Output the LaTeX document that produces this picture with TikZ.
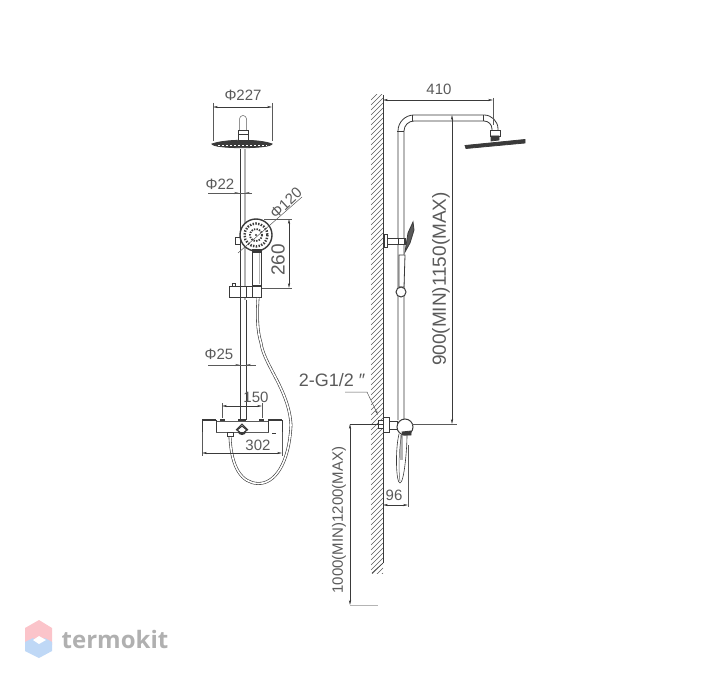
\documentclass[tikz,border=0pt]{standalone}
\usepackage{fontspec}
\setmainfont{Liberation Sans}
\newfontfamily\logofont{Open Sans}
\usetikzlibrary{arrows.meta}
\definecolor{inkdark}{HTML}{3A3A3A}
\definecolor{inkgrey}{HTML}{5A5A5A}
\definecolor{inkpale}{HTML}{B4B4B4}
\definecolor{logored}{HTML}{FBC4CA}
\definecolor{logoblue}{HTML}{BFD8F6}
\definecolor{logotext}{HTML}{B0B0B0}
\tikzset{
  pipe/.style={draw=inkdark,line width=0.8pt},
  dimline/.style={draw=inkdark,line width=0.5pt,{Stealth[length=5pt,width=2.2pt]}-{Stealth[length=5pt,width=2.2pt]}},
  extline/.style={draw=inkgrey,line width=0.5pt},
  dimtext/.style={text=inkgrey,font=\fontsize{15}{15}\selectfont,inner sep=0pt},
  bigtext/.style={text=inkgrey,font=\fontsize{19}{19}\selectfont,inner sep=0pt},
  midtext/.style={text=inkgrey,font=\fontsize{15}{15}\selectfont,inner sep=0pt},
  solid part/.style={pipe,fill=inkdark}
}
\begin{document}
\begin{tikzpicture}[x=1pt,y=-1pt]
  \useasboundingbox (0,0) rectangle (706,684);
  % front view, head and riser
  \draw[pipe,fill=inkdark] (212,144) .. controls (225,139) and (260,139) .. (272,144) .. controls (270,149) and (214,149) .. (212,144) -- cycle;
  \draw[draw=white,line width=1pt,dash pattern=on 2pt off 2pt] (218,146) -- (267,146);
  \draw[extline] (239.5,130) -- (239.5,119) arc (180:360:3.5) -- (246.5,130);
  \draw[pipe,fill=white] (238,130) rectangle (248,140);
  \draw[pipe] (238,134) -- (248,134);
  \draw[pipe] (240,149) -- (240,420);
  \draw[draw=inkpale,line width=1.6pt] (245,149) -- (245,300);
  \draw[pipe] (246,300) -- (246,420);
  % hand shower
  \draw[pipe,fill=white] (252,248) -- (252,285) -- (261,285) -- (261,248);
  \draw[draw=inkpale,line width=1.6pt] (259.5,252) -- (259.5,284);
  \draw[pipe,fill=white] (235,237) rectangle (240,244);
  \draw[draw=inkdark,line width=1.4pt,fill=white] (256,235) circle (16);
  \draw[draw=inkdark,line width=2.4pt,dash pattern=on 1.4pt off 1.4pt] (256,235) circle (11.5);
  \draw[draw=inkdark,line width=1.8pt,dash pattern=on 1.4pt off 1.2pt] (256,235) circle (6);
  \fill[inkdark] (256,235) circle (1.2);
  \draw[solid part] (252,249) rectangle (261,252);
  % slide bar
  \draw[pipe,fill=white] (229,286) rectangle (261,297);
  \draw[pipe] (240,286) -- (240,297) (246,286) -- (246,297) (252,286) -- (252,297);
  \draw[pipe] (232,286) -- (232,283) -- (235,283) -- (235,286);
  % hose
  \draw[draw=inkdark,line width=2.8pt] (258,298) .. controls (257,315) and (257,330) .. (261,343) .. controls (264,365) and (289,390) .. (291,425) .. controls (289,465) and (274,484) .. (258,483.5) .. controls (242,483) and (231,468) .. (230,436);
  \draw[draw=white,line width=1.6pt] (258,298) .. controls (257,315) and (257,330) .. (261,343) .. controls (264,365) and (289,390) .. (291,425) .. controls (289,465) and (274,484) .. (258,483.5) .. controls (242,483) and (231,468) .. (230,436);
  % thermostat bar
  \draw[draw=inkgrey,line width=0.6pt,fill=white] (216,421) rectangle (268,432);
  \draw[pipe,fill=white] (202,432) -- (202,420) -- (216,420) -- (216,432);
  \draw[pipe,fill=white] (268,432) -- (268,420) -- (282,420) -- (282,432);
  \draw[draw=inkdark,line width=1.4pt] (202,420) -- (216,420) (268,420) -- (282,420) (220,420) -- (225,420) (259,420) -- (264,420) (238,420) -- (246,420);
  \draw[pipe] (236,430) -- (242,424) -- (248,430);
  \draw[draw=inkdark,line width=1.2pt,fill=white] (237,430) -- (242,426) -- (247,430) -- (242,434) -- cycle;
  \fill[inkdark] (238,432) arc (180:0:4 and 3) -- cycle;
  \draw[pipe,fill=white] (227,432) rectangle (233,436);
  \draw[pipe] (272,433) -- (276,433);
  % front view dimensions
  \node[dimtext] (d_head) at (243,95) {Φ227};
  \draw[extline] (213,103) -- (213,141) (272,103) -- (272,141);
  \draw[dimline] (213,107) -- (272,107);
  \node[dimtext] (d_riser) at (220,184) {Φ22};
  \draw[extline] (208,193) -- (252,193);
  \draw[-{Stealth[length=5pt,width=2.2pt]},extline] (232,193) -- (239,193);
  \draw[-{Stealth[length=5pt,width=2.2pt]},extline] (252,193) -- (245,193);
  \node[dimtext,rotate=43] (d_hand) at (286,203) {Φ120};
  \draw[extline] (238,253) -- (302,197);
  \node[bigtext,rotate=90] (d_260) at (278,260) {260};
  \draw[extline] (264,219) -- (292,219) (262,288) -- (292,288);
  \draw[dimline] (289,219) -- (289,288);
  \node[dimtext] (d_bar) at (219,354) {Φ25};
  \draw[extline] (208,365) -- (256,365);
  \draw[-{Stealth[length=5pt,width=2.2pt]},extline] (232,365) -- (240,365);
  \draw[-{Stealth[length=5pt,width=2.2pt]},extline] (254,365) -- (246,365);
  \node[dimtext] (d_150) at (256,397) {150};
  \draw[extline] (222,403) -- (222,418) (262,403) -- (262,418);
  \draw[dimline] (222,406) -- (262,406);
  \node[dimtext] (d_302) at (258,445) {302};
  \draw[extline] (202,432) -- (202,456) (282,432) -- (282,456);
  \draw[dimline] (202,453) -- (282,453);
  % wall
  \begin{scope}
    \clip (371,95) rectangle (383,573);
    \foreach \i in {0,5,...,490} {
      \draw[draw=inkgrey,line width=0.4pt] (371,100+\i) -- (383,88+\i);
    }
  \end{scope}
  \draw[draw=inkdark,line width=0.8pt] (383,95) -- (383,563);
  \draw[draw=inkdark,line width=0.5pt] (383,563) -- (372,573);
  % side view, riser and arm
  \draw[pipe] (398,420) -- (398,131) arc (180:270:16) -- (484,115) arc (270:360:14) -- (498,133);
  \draw[pipe] (404,420) -- (404,131) arc (180:270:10) -- (484,121) arc (270:360:8) -- (492,133);
  \draw[pipe] (397,131) -- (404,131) (412,115) -- (412,121) (483,115) -- (483,121);
  \draw[pipe,fill=white] (490,130) rectangle (500,136);
  \draw[solid part] (491,136) -- (499,136) -- (499,140) -- (491,141) -- cycle;
  \draw[solid part] (465,145.5) -- (525,139.5) -- (525,143) -- (466,148.5) -- cycle;
  % side view, hand shower
  \draw[pipe,fill=white] (386,238) rectangle (405,244);
  \draw[pipe,fill=white] (384,234) rectangle (387,247);
  \draw[pipe] (398,238) -- (398,244) (404,238) -- (404,244);
  \draw[pipe,fill=inkgrey] (405,252) -- (408,233) -- (413,222) -- (414,230) -- (410,243) -- cycle;
  \draw[pipe,fill=white] (399,255) -- (405,255) -- (404,287) -- (399,287) -- cycle;
  \draw[draw=inkdark,line width=1pt,fill=white] (401,292) circle (5);
  % side view, valve
  \draw[pipe,fill=white] (378,420) rectangle (383,428);
  \draw[pipe,fill=white] (383,417) rectangle (389,432);
  \draw[pipe,fill=white] (389,421) rectangle (397,429);
  \draw[draw=inkpale,line width=2.5pt] (401.5,435) -- (401.5,460);
  \draw[draw=inkdark,line width=0.6pt] (399,434) .. controls (395,450) and (396,483) .. (400,483) .. controls (404,483) and (407,450) .. (407,435);
  \draw[draw=inkgrey,line width=0.5pt] (402,434) .. controls (398,450) and (399,478) .. (400,481);
  \draw[draw=inkdark,line width=1pt,fill=white] (405,427) circle (8);
  \draw[solid part] (402,432) -- (411,431) -- (411,435) -- (403,435) -- cycle;
  % side view dimensions
  \node[dimtext] (d_410) at (439,89) {410};
  \draw[extline] (493,98) -- (493,125);
  \draw[dimline] (383,100) -- (493,100);
  \node[bigtext,rotate=90] (d_upper) at (441,279) {900(MIN)1150(MAX)};
  \draw[dimline] (452,115) -- (452,424);
  \draw[extline] (412,424) -- (457,424);
  \node[midtext,rotate=90] (d_lower) at (339,520) {1000(MIN)1200(MAX)};
  \draw[dimline] (350,424) -- (350,605);
  \draw[draw=inkdark,line width=0.6pt] (350,424) -- (383,424);
  \draw[draw=inkpale,line width=1pt] (350,605) -- (378,605);
  \node[dimtext] (d_96) at (394,495) {96};
  \draw[extline] (408,445) -- (408,507);
  \draw[dimline] (383,505) -- (408,505);
  \node[bigtext,font=\fontsize{18}{18}\selectfont] (d_thread) at (332,380) {2-G1/2 ″};
  \draw[extline,-{Stealth[length=5pt,width=2.2pt]}] (345,392) -- (367,392) -- (378,415);
  % watermark
  \fill[logored] (39,620) -- (52,628) -- (52,645) -- (39,638) -- (25,645) -- (25,628) -- cycle;
  \fill[logoblue] (25,642) -- (33,638) -- (39,642) -- (45,638) -- (52,642) -- (52,651) -- (39,658) -- (25,651) -- cycle;
  \fill[white] (33,640) -- (39,636) -- (46,640) -- (39,644) -- cycle;
  \node[text=logotext,font=\logofont\bfseries\fontsize{24}{24}\selectfont,inner sep=0pt] (logo) at (115,639) {termokit};
\end{tikzpicture}
\end{document}
